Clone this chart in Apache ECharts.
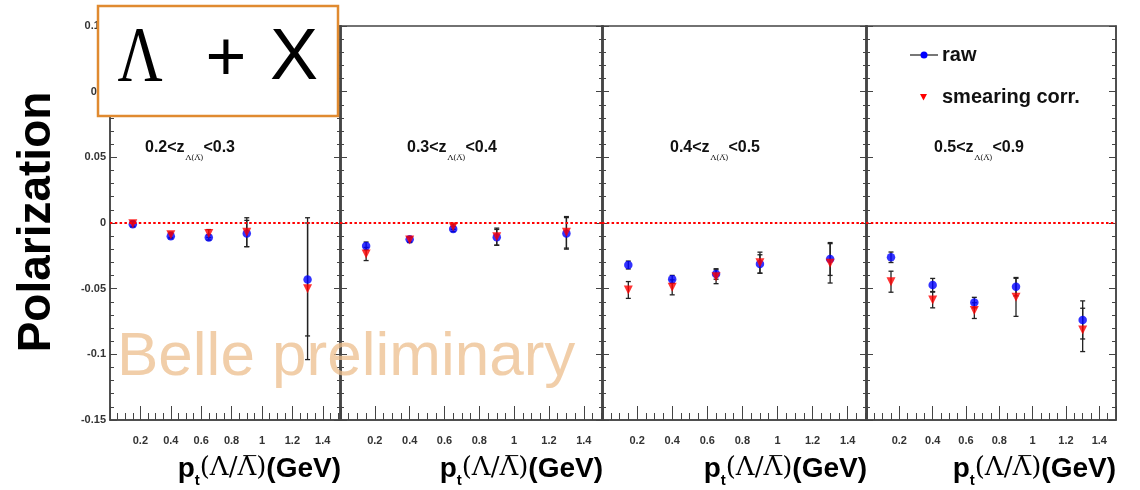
<!DOCTYPE html>
<html><head><meta charset="utf-8">
<script src="https://cdn.jsdelivr.net/npm/echarts@6/dist/echarts.min.js"></script>
<style>html,body{margin:0;padding:0;background:#fff}#c{width:1140px;height:490px}</style>
</head><body><div id="c"></div>
<script>
// ---- data ----
const ptBins = [0.15, 0.40, 0.65, 0.90, 1.30];
const zLow  = ['0.2', '0.3', '0.4', '0.5'];
const zHigh = ['0.3', '0.4', '0.5', '0.9'];
const yTicks = [-0.15, -0.1, -0.05, 0, 0.05, 0.1, 0.15];
const xTickLabels = ['0.2', '0.4', '0.6', '0.8', '1', '1.2', '1.4'];

const rawP1    = [-0.001, -0.010, -0.011, -0.008, -0.043];
const rawErrP1 = [0.002, 0.002, 0.002, 0.010, 0.043];
const corP1    = [-0.0005, -0.009, -0.008, -0.007, -0.050];
const corErrP1 = [0.002, 0.002, 0.003, 0.011, 0.054];

const rawP2    = [-0.0175, -0.0124, -0.0046, -0.0109, -0.0079];
const rawErrP2 = [0.003, 0.002, 0.002, 0.006, 0.012];
const corP2    = [-0.0236, -0.0129, -0.0028, -0.0104, -0.0071];
const corErrP2 = [0.005, 0.002, 0.002, 0.0065, 0.012];

const rawP3    = [-0.032, -0.0429, -0.0388, -0.0312, -0.0274];
const rawErrP3 = [0.003, 0.003, 0.004, 0.007, 0.0125];
const corP3    = [-0.051, -0.049, -0.0409, -0.0302, -0.0307];
const corErrP3 = [0.0064, 0.0057, 0.0053, 0.008, 0.015];

const rawP4    = [-0.0261, -0.0472, -0.0606, -0.0485, -0.0738];
const rawErrP4 = [0.004, 0.005, 0.004, 0.007, 0.0145];
const corP4    = [-0.0447, -0.0586, -0.0667, -0.0566, -0.0814];
const corErrP4 = [0.008, 0.006, 0.006, 0.0145, 0.0165];

const panels = [
  {raw: rawP1, rawErr: rawErrP1, cor: corP1, corErr: corErrP1},
  {raw: rawP2, rawErr: rawErrP2, cor: corP2, corErr: corErrP2},
  {raw: rawP3, rawErr: rawErrP3, cor: corP3, corErr: corErrP3},
  {raw: rawP4, rawErr: rawErrP4, cor: corP4, corErr: corErrP4}
];

// ---- layout ----
const gridBoxes = [
  {left: 110, width: 231}, {left: 340, width: 263},
  {left: 602, width: 265}, {left: 866, width: 250}
];
const xMaxes = [1.52, 1.51, 1.51, 1.5];
const TOP = 26, HEIGHT = 394;
const AX = '#444';
const LBL = {fontFamily: 'Liberation Sans', fontWeight: 'bold', fontSize: 11, color: '#333'};

const grid = [], xAxis = [], yAxis = [], series = [];
gridBoxes.forEach((g, i) => {
  grid.push({left: g.left, top: TOP, width: g.width, height: HEIGHT,
    show: true, borderColor: AX, borderWidth: 1.5, backgroundColor: 'transparent'});
  xAxis.push({type: 'value', gridIndex: i, min: 0, max: xMaxes[i], interval: 0.2, position: 'bottom',
    axisLine: {show: true, onZero: false, lineStyle: {color: AX, width: 1.5}},
    axisTick: {show: true, inside: true, length: 14, lineStyle: {color: AX, width: 1}},
    minorTick: {show: true, splitNumber: 4, length: 7, lineStyle: {color: AX, width: 1}},
    splitLine: {show: false},
    axisLabel: Object.assign({margin: 15, formatter: v => {
      const k = Math.round(v / 0.2);
      if (Math.abs(v - k * 0.2) > 1e-6 || k < 1 || k > xTickLabels.length) return '';
      return xTickLabels[k - 1];
    }}, LBL)
  });
  yAxis.push({type: 'value', gridIndex: i, min: -0.15, max: 0.15, interval: 0.05, position: 'left',
    axisLine: {show: true, onZero: false, lineStyle: {color: AX, width: 1.5}},
    axisTick: {show: true, inside: true, length: 7, lineStyle: {color: AX, width: 1}},
    minorTick: {show: true, splitNumber: 5, length: 4, lineStyle: {color: AX, width: 1}},
    splitLine: {show: false},
    axisLabel: Object.assign({show: i === 0, margin: 4, formatter: v => {
      const m = yTicks.find(t => Math.abs(t - v) < 1e-6);
      return m === undefined ? '' : String(m);
    }}, LBL)
  });
  yAxis.push({type: 'value', gridIndex: i, min: -0.15, max: 0.15, interval: 0.05, position: 'right',
    axisLine: {show: true, onZero: false, lineStyle: {color: AX, width: 1.5}},
    axisTick: {show: true, inside: true, length: 7, lineStyle: {color: AX, width: 1}},
    minorTick: {show: true, splitNumber: 5, length: 4, lineStyle: {color: AX, width: 1}},
    splitLine: {show: false}, axisLabel: {show: false}
  });

  const p = panels[i];
  const rawData = ptBins.map((x, k) => [x, p.raw[k], p.rawErr[k]]);
  const corData = ptBins.map((x, k) => [x, p.cor[k], p.corErr[k]]);
  const errItem = (params, api) => {
    const x = api.value(0), y = api.value(1), e = api.value(2);
    const t = api.coord([x, y + e]), b = api.coord([x, y - e]);
    const st = {stroke: '#222', lineWidth: 1.3};
    return {type: 'group', children: [
      {type: 'line', shape: {x1: t[0], y1: t[1], x2: b[0], y2: b[1]}, style: st},
      {type: 'line', shape: {x1: t[0] - 2.5, y1: t[1], x2: t[0] + 2.5, y2: t[1]}, style: st},
      {type: 'line', shape: {x1: b[0] - 2.5, y1: b[1], x2: b[0] + 2.5, y2: b[1]}, style: st}
    ]};
  };
  series.push({type: 'custom', name: 'rawErr' + i, xAxisIndex: i, yAxisIndex: 2 * i,
    data: rawData, encode: {x: 0, y: 1}, renderItem: errItem, z: 3, silent: true});
  series.push({type: 'custom', name: 'corErr' + i, xAxisIndex: i, yAxisIndex: 2 * i,
    data: corData, encode: {x: 0, y: 1}, renderItem: errItem, z: 3, silent: true});
  series.push({type: 'scatter', name: 'raw', xAxisIndex: i, yAxisIndex: 2 * i,
    data: rawData.map(d => [d[0], d[1]]), symbol: 'circle', symbolSize: 8.5,
    itemStyle: {color: '#0000ff'}, z: 4,
    markLine: {silent: true, symbol: 'none', label: {show: false},
      lineStyle: {color: '#ff0000', type: [2.5, 2.3], width: 2},
      data: [{yAxis: 0}]}
  });
  series.push({type: 'scatter', name: 'smearing corr.', xAxisIndex: i, yAxisIndex: 2 * i,
    data: corData.map(d => [d[0], d[1]]), symbol: 'triangle', symbolRotate: 180, symbolSize: 9,
    itemStyle: {color: '#ff0000'}, z: 5});
});

// ---- text / decorations ----
const graphic = [];
// panel z-range labels
const zLabelX = [145, 407, 670, 934];
zLabelX.forEach((x, i) => {
  graphic.push({type: 'text', left: x, top: 140, z: 20, style: {
    text: '{a|' + zLow[i] + '<z}{s|Λ(Λ\u0305)}{a|<' + zHigh[i] + '}',
    rich: {
      a: {fontFamily: 'Liberation Sans', fontWeight: 'bold', fontSize: 16, lineHeight: 16, verticalAlign: 'top', fill: '#111'},
      s: {fontFamily: 'DejaVu Serif', fontSize: 8, lineHeight: 10, padding: [14, 0, 0, 1], verticalAlign: 'top', fill: '#111'}
    }}});
});
// x-axis titles
gridBoxes.forEach(g => {
  graphic.push({type: 'text', right: 1140 - (g.left + g.width), top: 455, z: 20, style: {
    text: '{m|p}{t|t}{g|(Λ/Λ\u0305)}{m|(GeV)}', align: 'right',
    rich: {
      m: {fontFamily: 'Liberation Sans', fontWeight: 'bold', fontSize: 28, lineHeight: 30, verticalAlign: 'top', fill: '#000'},
      t: {fontFamily: 'Liberation Sans', fontWeight: 'bold', fontSize: 15, lineHeight: 16, padding: [18, 0, 0, 0], verticalAlign: 'top', fill: '#000'},
      g: {fontFamily: 'DejaVu Serif', fontSize: 26, lineHeight: 30, verticalAlign: 'top', fill: '#000'}
    }}});
});
// y-axis title
graphic.push({type: 'text', x: 37, y: 222, rotation: Math.PI / 2, z: 20, style: {
  text: 'Polarization', fontFamily: 'Liberation Sans', fontWeight: 'bold', fontSize: 46,
  fill: '#000', align: 'center', verticalAlign: 'middle'}});
// watermark
graphic.push({type: 'text', x: 117, y: 389, z: 30, style: {
  text: 'Belle preliminary', fontFamily: 'Liberation Sans', fontSize: 62,
  fill: 'rgba(236,190,140,0.75)', align: 'left', verticalAlign: 'bottom'}});
// legend
graphic.push({type: 'line', shape: {x1: 910, y1: 55, x2: 938, y2: 55}, style: {stroke: '#777', lineWidth: 2}, z: 20});
graphic.push({type: 'circle', shape: {cx: 924, cy: 55, r: 3.5}, style: {fill: '#0000ff'}, z: 21});
graphic.push({type: 'text', x: 942, y: 55, z: 20, style: {text: 'raw', fontFamily: 'Liberation Sans',
  fontWeight: 'bold', fontSize: 20, fill: '#111', verticalAlign: 'middle'}});
graphic.push({type: 'polygon', shape: {points: [[920, 94], [927, 94], [923.5, 100.5]]}, style: {fill: '#ff0000'}, z: 20});
graphic.push({type: 'text', x: 942, y: 97, z: 20, style: {text: 'smearing corr.', fontFamily: 'Liberation Sans',
  fontWeight: 'bold', fontSize: 20, fill: '#111', verticalAlign: 'middle'}});
// orange title box
graphic.push({type: 'rect', shape: {x: 98, y: 6, width: 240, height: 110},
  style: {fill: '#fff', stroke: '#e08a30', lineWidth: 2.5}, z: 40});
graphic.push({type: 'text', x: 140, y: 60, scaleX: 0.8, z: 41, style: {text: 'Λ', fontFamily: 'Liberation Serif',
  fontSize: 78, fill: '#000', align: 'center', verticalAlign: 'middle'}});
graphic.push({type: 'text', x: 226, y: 61, z: 41, style: {text: '+', fontFamily: 'Liberation Sans',
  fontSize: 70, fill: '#000', align: 'center', verticalAlign: 'middle'}});
graphic.push({type: 'text', x: 294, y: 59, z: 41, style: {text: 'X', fontFamily: 'Liberation Sans',
  fontSize: 72, fill: '#000', align: 'center', verticalAlign: 'middle'}});

const chart = echarts.init(document.getElementById('c'), null, {renderer: 'canvas'});
chart.setOption({animation: false, backgroundColor: '#fff', grid, xAxis, yAxis, series, graphic});
</script>
</body></html>
